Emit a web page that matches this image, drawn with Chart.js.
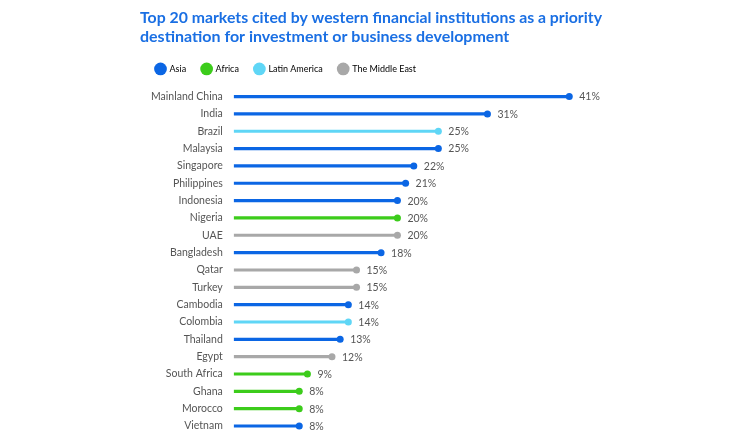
<!DOCTYPE html>
<html>
<head>
<meta charset="utf-8">
<script src="https://cdn.jsdelivr.net/npm/chart.js@4.4.1/dist/chart.umd.min.js"></script>
<style>
  html, body { margin: 0; padding: 0; background: #fff; overflow: hidden; }
  #wrap { position: absolute; left: 140px; top: 0; width: 500px; height: 452px; }
</style>
</head>
<body>
<div id="wrap"><canvas id="lollipop"></canvas></div>
<script>
// data
const markets = ["Mainland China", "India", "Brazil", "Malaysia", "Singapore", "Philippines",
  "Indonesia", "Nigeria", "UAE", "Bangladesh", "Qatar", "Turkey", "Cambodia", "Colombia",
  "Thailand", "Egypt", "South Africa", "Ghana", "Morocco", "Vietnam"];
const shares = [41, 31, 25, 25, 22, 21, 20, 20, 20, 18, 15, 15, 14, 14, 13, 12, 9, 8, 8, 8];
const regions = ["Asia", "Asia", "Latin America", "Asia", "Asia", "Asia", "Asia", "Africa",
  "The Middle East", "Asia", "The Middle East", "The Middle East", "Asia", "Latin America",
  "Asia", "The Middle East", "Africa", "Africa", "Africa", "Asia"];
const regionNames = ["Asia", "Africa", "Latin America", "The Middle East"];

const regionColor = {
  "Asia": "#0b66e4",
  "Africa": "#3ccc1b",
  "Latin America": "#5fd6f6",
  "The Middle East": "#a8a8a8",
};
const pointColors = regions.map((r) => regionColor[r]);

// value labels next to the dots
const valueLabels = {
  id: "valueLabels",
  afterDatasetsDraw(chart) {
    const ctx = chart.ctx;
    const meta = chart.getDatasetMeta(1);
    ctx.save();
    ctx.font = "10.5px Lato";
    ctx.fillStyle = "#555";
    ctx.textBaseline = "middle";
    meta.data.forEach((pt, i) => {
      ctx.fillText(shares[i] + "%", pt.x + 10, pt.y + 0.5);
    });
    ctx.restore();
  },
};

// a little more room under the legend
const legendGap = {
  id: "legendGap",
  beforeInit(chart) {
    const fit = chart.legend.fit;
    chart.legend.fit = function () {
      fit.bind(chart.legend)();
      this.height += 4.5;
    };
  },
};

new Chart(document.getElementById("lollipop"), {
  data: {
    labels: markets,
    datasets: [
      {
        type: "bar",
        data: shares,
        backgroundColor: pointColors,
        barThickness: 2.5,
      },
      {
        type: "line",
        data: shares,
        showLine: false,
        pointRadius: 3.5,
        pointHoverRadius: 3.5,
        pointBorderWidth: 0,
        pointBackgroundColor: pointColors,
      },
    ],
  },
  options: {
    indexAxis: "y",
    responsive: true,
    maintainAspectRatio: false,
    animation: false,
    layout: { padding: { top: 2, right: 38, bottom: 5, left: 0 } },
    scales: {
      x: { display: false, min: 0, max: 45 },
      y: {
        grid: { display: false, drawTicks: false },
        border: { display: false },
        ticks: { color: "#555", font: { family: "Lato", size: 10.5 }, padding: 11 },
      },
    },
    plugins: {
      tooltip: { enabled: false },
      title: {
        display: true,
        align: "start",
        text: [
          "Top 20 markets cited by western financial institutions as a priority",
          "destination for investment or business development",
        ],
        color: "#1a6fe3",
        font: { family: "Lato", size: 16, weight: "bold", lineHeight: 1.2 },
        padding: { top: 6, bottom: 2 },
      },
      legend: {
        display: true,
        align: "start",
        labels: {
          usePointStyle: true,
          pointStyle: "circle",
          boxWidth: 9,
          boxHeight: 9,
          padding: 16,
          color: "#555",
          font: { family: "Lato", size: 9 },
          generateLabels: () =>
            regionNames.map((r) => ({
              text: r,
              fillStyle: regionColor[r],
              strokeStyle: regionColor[r],
              lineWidth: 0,
              pointStyle: "circle",
            })),
        },
      },
    },
  },
  plugins: [valueLabels, legendGap],
});
</script>
</body>
</html>
